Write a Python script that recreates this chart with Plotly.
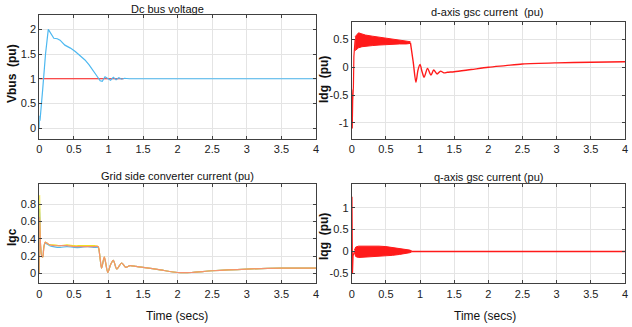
import plotly.graph_objects as go

W, H = 632, 327

# ---------------- data ----------------
# DC bus voltage
t_vbus = [0, 0.003, 0.01, 0.05, 0.09, 0.13, 0.17, 0.21, 0.26, 0.3, 0.37, 0.45, 0.52, 0.6, 0.66,
          0.72, 0.78, 0.84, 0.88, 0.91, 0.95, 0.99, 1.03, 1.07, 1.11, 1.15, 1.19, 1.23, 1.3, 1.5, 4.0]
v_vbus = [0.0, 0.25, 0.15, 0.8, 1.5, 2.0, 1.9, 1.82, 1.81, 1.78, 1.68, 1.62, 1.55, 1.46, 1.38,
          1.28, 1.17, 1.04, 0.96, 0.95, 1.04, 1.0, 0.97, 1.03, 0.98, 1.02, 0.99, 1.01, 1.0, 1.0, 1.0]
t_vref = [0, 1.22]
v_vref = [1.0, 1.0]

# d-axis gsc current
t_idg_pre = [0, 0.008, 0.015, 0.025, 0.032, 0.04, 0.05]
v_idg_pre = [-0.4, -1.1, -0.6, -0.35, 0.2, 0.45, 0.5]
t_idg_band = [0.05, 0.08, 0.1, 0.15, 0.2, 0.3, 0.4, 0.5, 0.6, 0.7, 0.8, 0.86]
up_idg_band = [0.55, 0.6, 0.62, 0.6, 0.58, 0.56, 0.54, 0.52, 0.5, 0.48, 0.47, 0.46]
lo_idg_band = [0.3, 0.33, 0.35, 0.37, 0.38, 0.39, 0.4, 0.41, 0.42, 0.42, 0.42, 0.43]
t_idg_post = [0.86, 0.9, 0.94, 0.97, 1.0, 1.03, 1.06, 1.11, 1.16, 1.2, 1.25, 1.3, 1.35, 1.4, 1.5,
              1.75, 2.0, 2.25, 2.5, 3.0, 3.5, 4.0]
v_idg_post = [0.44, 0.1, -0.27, -0.05, 0.05, -0.08, -0.18, -0.02, -0.14, -0.05, -0.12, -0.07, -0.1,
              -0.09, -0.08, -0.04, 0.0, 0.03, 0.06, 0.08, 0.09, 0.1]

# Grid side converter current (three phases)
t_igc = [0, 0.004, 0.01, 0.02, 0.035, 0.05, 0.065, 0.085, 0.11, 0.15,
         0.2, 0.3, 0.4, 0.5, 0.6, 0.7, 0.8, 0.85, 0.875, 0.9,
         0.94, 0.99, 1.03, 1.07, 1.12, 1.19, 1.25, 1.31, 1.4, 1.5,
         1.75, 2.0, 2.2, 2.5, 3.0, 3.5, 4.0]
igc_a = [0, 0.75, 0.5, 0.3, 0.2, 0.19, 0.3, 0.35, 0.34, 0.32,
         0.31, 0.3, 0.31, 0.3, 0.3, 0.31, 0.3, 0.3, 0.2, 0.06,
         0.18, 0.01, 0.1, 0.15, 0.05, 0.12, 0.07, 0.09, 0.08, 0.07,
         0.04, 0.01, 0.01, 0.03, 0.05, 0.06, 0.06]
igc_b = [0, 0.9, 0.55, 0.3, 0.2, 0.19, 0.3, 0.36, 0.35, 0.33,
         0.33, 0.32, 0.33, 0.32, 0.32, 0.32, 0.32, 0.31, 0.2, 0.06,
         0.19, 0.01, 0.1, 0.15, 0.05, 0.12, 0.07, 0.09, 0.08, 0.07,
         0.04, 0.01, 0.01, 0.03, 0.05, 0.06, 0.06]
igc_c = [0, 0.65, 0.5, 0.3, 0.2, 0.19, 0.3, 0.36, 0.35, 0.33,
         0.32, 0.32, 0.32, 0.31, 0.31, 0.31, 0.31, 0.31, 0.2, 0.06,
         0.19, 0.01, 0.1, 0.15, 0.05, 0.12, 0.07, 0.09, 0.08, 0.07,
         0.04, 0.01, 0.01, 0.03, 0.05, 0.06, 0.06]

# q-axis gsc current
t_iqg_pre = [0, 0.004, 0.008, 0.012, 0.02, 0.04]
v_iqg_pre = [0, 1.25, 0.3, -0.5, -0.1, 0.0]
t_iqg_band = [0.04, 0.06, 0.1, 0.2, 0.3, 0.4, 0.5, 0.6, 0.7, 0.8, 0.85, 0.88]
up_iqg_band = [0.03, 0.1, 0.12, 0.12, 0.13, 0.12, 0.11, 0.09, 0.07, 0.05, 0.03, 0.01]
lo_iqg_band = [-0.03, -0.12, -0.14, -0.13, -0.13, -0.12, -0.11, -0.09, -0.07, -0.05, -0.03, -0.01]
t_iqg_post = [0.88, 4.0]
v_iqg_post = [0.0, 0.0]

x_ticks = [0, 0.5, 1, 1.5, 2, 2.5, 3, 3.5, 4]
x_ticklabels = ["0", "0.5", "1", "1.5", "2", "2.5", "3", "3.5", "4"]

# ---------------- figure ----------------
BLUE = "#4DB8F0"
RED = "#FF1A1A"
ORANGE = "#F5926E"
YELLOW = "#F0E020"
FONT = "Liberation Sans, Arial, sans-serif"

fig = go.Figure()

def line(x, y, color, xa, ya, w=1.2, shape="linear"):
    fig.add_trace(go.Scatter(x=x, y=y, mode="lines",
                             line=dict(color=color, width=w, shape=shape,
                                       smoothing=0.8 if shape == "spline" else None),
                             xaxis=xa, yaxis=ya, showlegend=False, hoverinfo="skip"))

def band(x, up, lo, color, xa, ya):
    fig.add_trace(go.Scatter(x=x, y=up, mode="lines", line=dict(color=color, width=1),
                             xaxis=xa, yaxis=ya, showlegend=False, hoverinfo="skip"))
    fig.add_trace(go.Scatter(x=x, y=lo, mode="lines", line=dict(color=color, width=1),
                             fill="tonexty", fillcolor=color,
                             xaxis=xa, yaxis=ya, showlegend=False, hoverinfo="skip"))

# panel 1
line(t_vref, v_vref, RED, "x", "y")
line(t_vbus, v_vbus, BLUE, "x", "y")
# panel 2
line(t_idg_pre, v_idg_pre, RED, "x2", "y2")
band(t_idg_band, up_idg_band, lo_idg_band, RED, "x2", "y2")
line(t_idg_post, v_idg_post, RED, "x2", "y2", 1.4, "spline")
# panel 3
line(t_igc, igc_a, BLUE, "x3", "y3", 1.2, "spline")
line(t_igc, igc_b, YELLOW, "x3", "y3", 1.2, "spline")
line(t_igc, igc_c, ORANGE, "x3", "y3", 1.2, "spline")
# panel 4
line(t_iqg_pre, v_iqg_pre, RED, "x4", "y4")
band(t_iqg_band, up_iqg_band, lo_iqg_band, RED, "x4", "y4")
line(t_iqg_post, v_iqg_post, RED, "x4", "y4", 1.5)

def px(x):
    return x / W

def py(y):
    return 1 - y / H

dom_xl = [px(39.3), px(316)]
dom_xr = [px(351.7), px(625)]

axis_common = dict(showgrid=True, gridcolor="#e4e4e4", gridwidth=1, zeroline=False,
                   showline=True, linecolor="#404040", linewidth=1, mirror="ticks",
                   ticks="inside", ticklen=3, tickcolor="#404040",
                   tickfont=dict(family=FONT, size=11, color="#222"), automargin=False)

def xax(dom, anchor):
    return dict(domain=dom, anchor=anchor, range=[0, 4], tickvals=x_ticks,
                ticktext=x_ticklabels, **axis_common)

def yax(dom, anchor, rng, tv):
    return dict(domain=dom, anchor=anchor, range=rng, tickvals=tv,
                ticktext=[("%g" % v) for v in tv], **axis_common)

fig.update_layout(
    width=W, height=H, margin=dict(l=0, r=0, t=0, b=0),
    paper_bgcolor="white", plot_bgcolor="white", showlegend=False,
    xaxis=xax(dom_xl, "y"),
    yaxis=yax([py(139), py(15)], "x", [-0.22, 2.29], [0, 0.5, 1, 1.5, 2]),
    xaxis2=xax(dom_xr, "y2"),
    yaxis2=yax([py(139), py(21.7)], "x2", [-1.29, 0.82], [-1, -0.5, 0, 0.5]),
    xaxis3=xax(dom_xl, "y3"),
    yaxis3=yax([py(283.3), py(184.3)], "x3", [-0.115, 1.03], [0, 0.2, 0.4, 0.6, 0.8]),
    xaxis4=xax(dom_xr, "y4"),
    yaxis4=yax([py(283.3), py(184.3)], "x4", [-0.73, 1.535], [-0.5, 0, 0.5, 1]),
)

def ann(text, x, y, size=11, angle=0, bold=False, family=FONT):
    fig.add_annotation(text=("<b>%s</b>" % text) if bold else text, x=px(x), y=py(y),
                       xref="paper", yref="paper", showarrow=False, textangle=angle,
                       xanchor="center", yanchor="middle",
                       font=dict(family=family, size=size, color="#111"))

ann("Dc bus voltage", 167, 9)
ann("d-axis gsc current  (pu)", 487, 12)
ann("Grid side converter current (pu)", 177.5, 176)
ann("q-axis gsc current (pu)", 488, 177)
ann("Time (secs)", 177, 316, 12)
ann("Time (secs)", 485, 316, 12)
ann("Vbus  (pu)", 12, 74, 12, -90, True)
ann("Idg  (pu)", 324, 80, 12, -90, True)
ann("Igc", 12, 237, 12, -90, True)
ann("Iqg  (pu)", 324, 237, 12, -90, True)

fig.write_html("out.html")
